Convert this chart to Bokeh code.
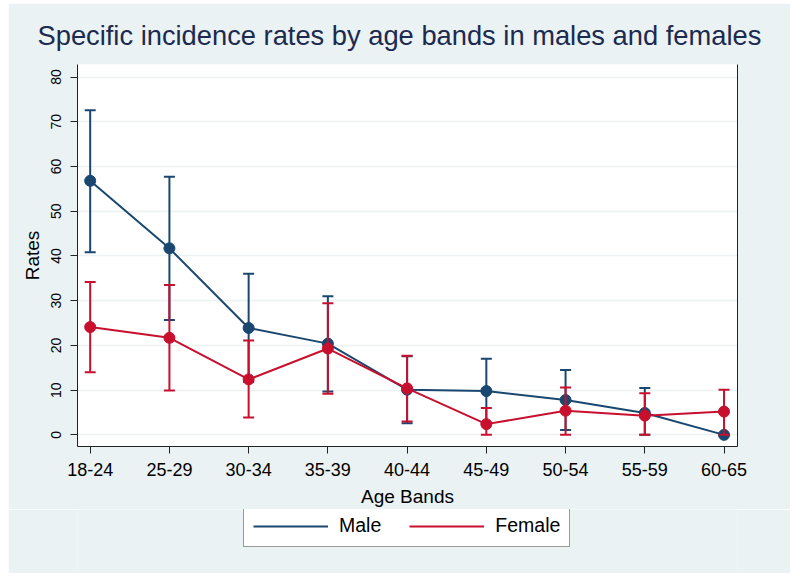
from bokeh.plotting import figure
from bokeh.layouts import column
from bokeh.models import (Range1d, FixedTicker, LinearAxis, Legend, LegendItem,
                          ColumnDataSource)
from bokeh.embed import file_html
from bokeh.resources import INLINE

# ---- data ----
age_bands = ["18-24", "25-29", "30-34", "35-39", "40-44", "45-49", "50-54", "55-59", "60-65"]
male_rate = [56.8, 41.7, 23.9, 20.4, 10.1, 9.8, 7.8, 4.9, 0.0]
male_lo = [40.8, 25.7, 11.8, 9.7, 2.6, 2.7, 1.1, 0.0, 0.0]
male_hi = [72.6, 57.7, 36.0, 31.0, 17.6, 17.0, 14.5, 10.5, 0.0]
female_rate = [24.1, 21.7, 12.4, 19.3, 10.4, 2.4, 5.4, 4.3, 5.2]
female_lo = [14.0, 9.9, 3.9, 9.2, 3.0, 0.0, 0.0, 0.0, 0.0]
female_hi = [34.2, 33.5, 21.1, 29.4, 17.7, 6.0, 10.6, 9.3, 10.1]
y_ticks = [0, 10, 20, 30, 40, 50, 60, 70, 80]

MALE_C = "#1a476f"
FEMALE_C = "#c8102e"
BG = "#EAF2F3"
FONT = "Liberation Sans"

x = list(range(len(age_bands)))

p = figure(frame_width=660, frame_height=382, output_backend="svg", toolbar_location=None,
           x_range=Range1d(-0.16, 8.17), y_range=Range1d(-2.6, 82.8),
           min_border_left=69, min_border_right=53, min_border_top=61,
           min_border_bottom=63,
           title="Specific incidence rates by age bands in males and females")

p.border_fill_color = BG
p.background_fill_color = "white"
p.outline_line_color = None

p.title.text_font = FONT
p.title.text_font_size = "27.3px"
p.title.text_font_style = "normal"
p.title.text_color = "#1c2a4f"
p.title.text_line_height = 1.0
p.title.align = "left"
p.title.offset = -40
p.title.standoff = 28

# axes
xa = p.xaxis[0]
xa.ticker = FixedTicker(ticks=x)
xa.major_label_overrides = {i: lab for i, lab in enumerate(age_bands)}
xa.axis_label = "Age Bands"
ya = p.yaxis[0]
ya.ticker = FixedTicker(ticks=y_ticks)
ya.axis_label = "Rates"
ya.major_label_orientation = "vertical"

for ax in (xa, ya):
    ax.axis_label_text_font = FONT
    ax.axis_label_text_font_style = "normal"
    ax.axis_label_text_font_size = "19px"
    ax.axis_label_text_color = "black"
    ax.major_label_text_font = FONT
    ax.major_label_text_color = "black"
    ax.axis_line_color = "#222222"
    ax.major_tick_line_color = "#222222"
    ax.major_tick_out = 7
    ax.major_tick_in = 0
    ax.minor_tick_line_color = None

xa.major_label_text_font_size = "18px"
xa.major_label_standoff = 9
xa.axis_label_standoff = 7
ya.major_label_text_font_size = "14px"
ya.major_label_standoff = 9
ya.axis_label_standoff = 6

# right frame line
ra = LinearAxis(ticker=FixedTicker(ticks=[]), axis_line_color="#222222",
                major_tick_line_color=None, minor_tick_line_color=None,
                major_label_text_font_size="0px")
p.add_layout(ra, "right")

p.xgrid.grid_line_color = None
p.ygrid.grid_line_color = BG
p.ygrid.grid_line_width = 1.5

# data sources
ms = ColumnDataSource(dict(x=x, y=male_rate, lo=male_lo, hi=male_hi))
fs = ColumnDataSource(dict(x=x, y=female_rate, lo=female_lo, hi=female_hi))

for name, src, col in (("Male", ms, MALE_C), ("Female", fs, FEMALE_C)):
    p.segment(x0="x", y0="lo", x1="x", y1="hi", source=src, line_color=col, line_width=2)
    p.dash(x="x", y="lo", source=src, size=11, line_color=col, line_width=2)
    p.dash(x="x", y="hi", source=src, size=11, line_color=col, line_width=2)
    p.line(x="x", y="y", source=src, line_color=col, line_width=2)
    p.scatter(x="x", y="y", source=src, size=11, fill_color=col, line_color=col)

# ---- legend strip (separate figure below the chart) ----
q = figure(width=782, height=64, output_backend="svg", toolbar_location=None,
           min_border=0, x_axis_type=None, y_axis_type=None,
           x_range=Range1d(-0.16, 8.17), y_range=Range1d(-2.6, 82.8))
q.border_fill_color = BG
q.background_fill_color = BG
q.outline_line_color = None
q.grid.visible = False
lm = q.line(x=x, y=male_rate, line_color=MALE_C, line_width=2, visible=False)
lf = q.line(x=x, y=female_rate, line_color=FEMALE_C, line_width=2, visible=False)

legend = Legend(items=[LegendItem(label="Male", renderers=[lm]),
                       LegendItem(label="Female", renderers=[lf])],
                orientation="horizontal", location=(166, 26))
legend.label_text_font = FONT
legend.label_text_font_size = "19.5px"
legend.label_text_color = "black"
legend.glyph_width = 75
legend.glyph_height = 20
legend.label_standoff = 11
legend.spacing = 28
legend.padding = 9
legend.margin = 0
legend.border_line_color = "#333333"
legend.border_line_width = 1
legend.background_fill_color = "white"
legend.background_fill_alpha = 1
legend.inactive_fill_alpha = 0
legend.click_policy = "none"
q.add_layout(legend, "center")

layout = column(p, q, spacing=0, margin=(3, 0, 0, 8))
open("out.html", "w").write(file_html(layout, INLINE))
